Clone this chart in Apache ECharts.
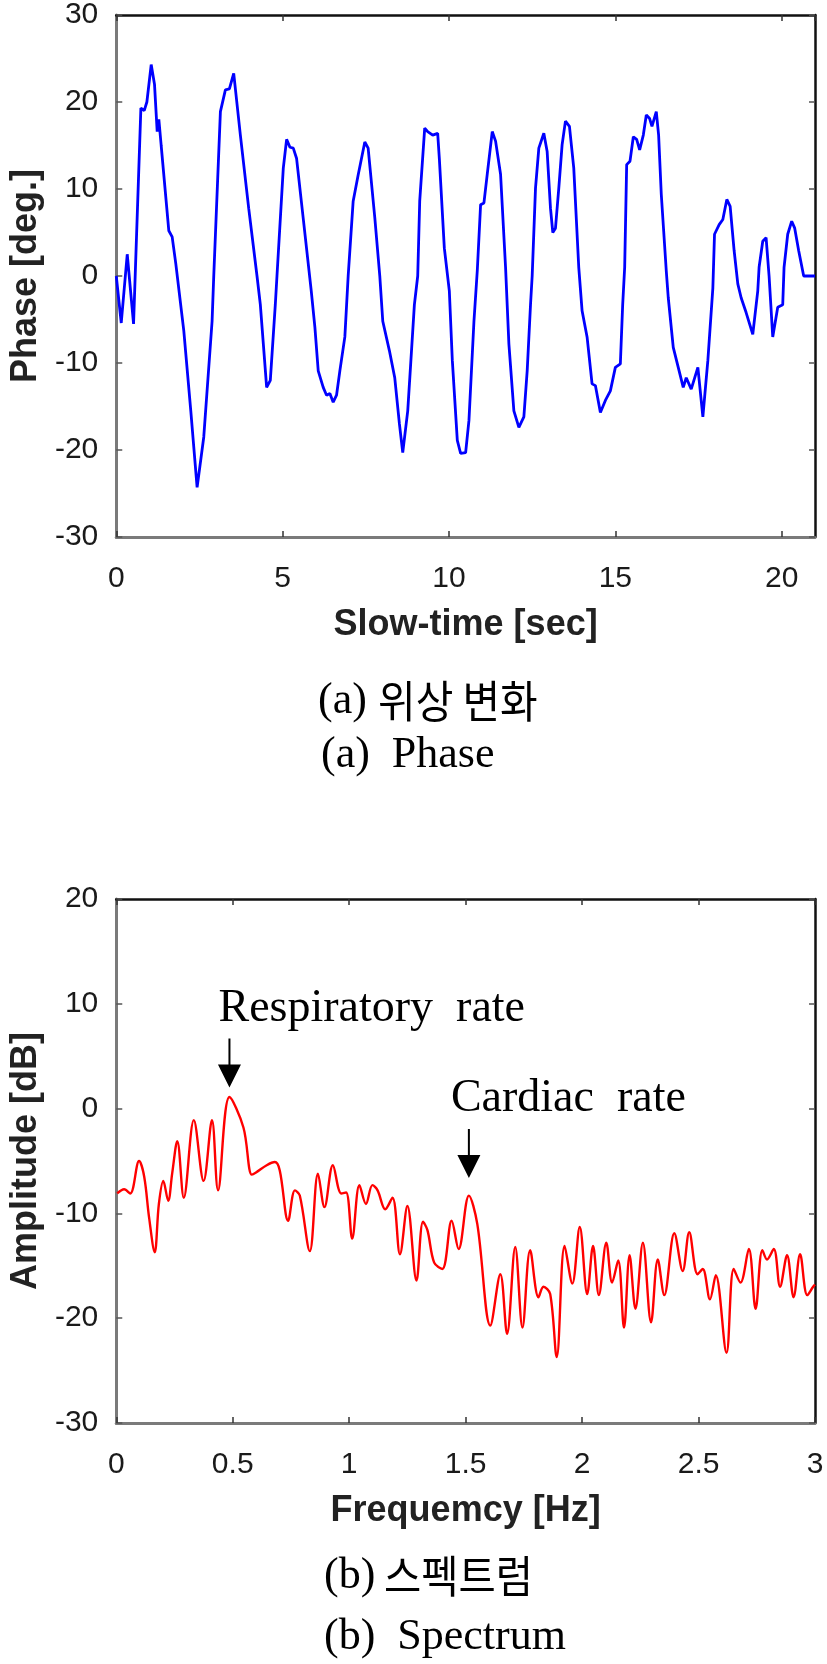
<!DOCTYPE html>
<html><head><meta charset="utf-8">
<script src="https://cdn.jsdelivr.net/npm/echarts@6/dist/echarts.min.js"></script>
<style>html,body{margin:0;padding:0;background:#fff}#c{width:827px;height:1664px}</style>
</head><body><div id="c"></div>
<script>
// ---- data: phase (top) ----
const phaseTimeRange = [0, 21];      // sec
const phaseYRange = [-30, 30];        // deg
const phasePoints = [
[0,0],[0.15,-5.4],[0.33,2.5],[0.52,-5.5],[0.74,19.3],[0.84,19],[0.92,20],[1.05,24.3],[1.15,22],[1.23,16.6],[1.28,18],[1.35,15],
[1.58,5.2],[1.68,4.5],[1.79,1.4],[2.03,-6.3],[2.24,-15.5],[2.43,-24.3],[2.63,-18.5],[2.88,-5.2],[2.93,0],[3.13,18.9],[3.28,21.4],
[3.4,21.5],[3.53,23.3],[3.73,16.2],[3.98,7.8],[4.23,0],[4.33,-3.3],[4.52,-12.8],[4.63,-12],[4.78,-3.3],[4.83,0],[5.02,12.4],
[5.12,15.7],[5.22,14.8],[5.32,14.7],[5.42,13.5],[5.62,6.6],[5.86,-1.7],[5.97,-5.9],[6.07,-10.9],[6.22,-12.8],[6.32,-13.7],
[6.42,-13.5],[6.52,-14.5],[6.62,-13.7],[6.72,-10.9],[6.87,-7],[6.97,0],[7.12,8.6],[7.27,11.6],[7.47,15.4],[7.57,14.7],[7.77,6.7],
[7.92,0],[8.01,-5.2],[8.21,-8.6],[8.37,-11.7],[8.51,-17],[8.61,-20.3],[8.76,-15.5],[8.96,-3.3],[9.06,0],[9.12,8.6],[9.27,17],
[9.36,16.6],[9.51,16.2],[9.66,16.4],[9.71,13.5],[9.86,3.2],[10.01,-1.7],[10.1,-9.7],[10.25,-18.9],[10.35,-20.4],[10.5,-20.3],
[10.6,-16.6],[10.75,-5.2],[10.85,0.6],[10.95,8.2],[11.05,8.4],[11.15,11.7],[11.3,16.6],[11.4,15.5],[11.55,11.7],[11.7,1],
[11.8,-7.8],[11.95,-15.5],[12.1,-17.4],[12.25,-16.2],[12.35,-10.9],[12.45,-3.3],[12.5,0],[12.6,10.1],[12.7,14.7],[12.85,16.4],
[12.95,14.3],[13.05,7.8],[13.12,5],[13.2,5.5],[13.3,10.1],[13.4,15.1],[13.5,17.8],[13.62,17.2],[13.75,12.4],[13.9,1],[14.0,-4],
[14.15,-7],[14.3,-12.4],[14.4,-12.6],[14.55,-15.7],[14.7,-14.3],[14.85,-13.2],[15.0,-10.5],[15.15,-10.1],[15.22,-3.3],[15.28,1],
[15.34,12.8],[15.44,13.2],[15.54,16],[15.64,15.7],[15.73,14.5],[15.84,16.2],[15.93,18.5],[16.03,18.1],[16.1,17.2],[16.23,18.9],
[16.3,16.2],[16.38,9.4],[16.53,0.6],[16.59,-2.5],[16.74,-8.2],[16.89,-10.5],[17.04,-12.8],[17.13,-11.7],[17.28,-13],[17.48,-10.5],
[17.63,-16.2],[17.78,-9.7],[17.93,-1.4],[17.98,4.8],[18.12,5.9],[18.23,6.5],[18.35,8.8],[18.45,8],[18.57,2.9],[18.68,-0.9],
[18.78,-2.5],[18.93,-4.2],[19.13,-6.7],[19.28,-1.7],[19.32,1],[19.43,4],[19.53,4.4],[19.62,0],[19.73,-7],[19.88,-3.6],[20.03,-3.3],
[20.07,1],[20.18,4.8],[20.3,6.3],[20.39,5.5],[20.51,2.9],[20.66,0],[20.87,0],[21,0]
];

// ---- data: spectrum (bottom) ----
const freqRange = [0, 3];      // Hz
const ampRange = [-30, 20];    // dB
const spectrumPoints = [
[0.004,-8.1],[0.034,-7.7],[0.06,-8.1],[0.098,-5.0],[0.12,-6.5],[0.141,-10.4],[0.165,-13.7],[0.183,-9.1],[0.202,-6.9],[0.223,-8.8],
[0.24,-6.2],[0.262,-3.1],[0.29,-8.5],[0.333,-1.1],[0.375,-6.9],[0.411,-1.1],[0.437,-7.8],[0.486,1.1],[0.546,-1.8],[0.582,-6.3],
[0.6,-6.1],[0.646,-5.4],[0.681,-5.1],[0.702,-5.9],[0.738,-10.7],[0.767,-7.8],[0.788,-8.3],[0.831,-13.6],[0.866,-6.2],[0.894,-9.4],
[0.93,-5.4],[0.966,-8.1],[0.987,-8.0],[1.013,-12.4],[1.044,-7.3],[1.072,-9.1],[1.1,-7.3],[1.122,-7.8],[1.155,-9.6],[1.186,-8.5],
[1.218,-13.9],[1.25,-9.3],[1.289,-16.4],[1.317,-10.8],[1.336,-11.6],[1.365,-14.7],[1.4,-15.3],[1.44,-10.7],[1.47,-13.4],[1.514,-8.3],
[1.55,-11],[1.606,-20.7],[1.649,-15.8],[1.678,-21.5],[1.713,-13.2],[1.744,-20.9],[1.777,-13.5],[1.813,-18],[1.834,-17],[1.863,-17.7],
[1.891,-23.7],[1.925,-13.1],[1.958,-16.7],[1.99,-11.3],[2.022,-17.7],[2.047,-13.1],[2.072,-17.8],[2.104,-12.8],[2.129,-16.6],
[2.155,-14.5],[2.18,-20.9],[2.204,-14],[2.229,-19.1],[2.261,-12.8],[2.296,-20.4],[2.325,-14.4],[2.353,-17.8],[2.396,-11.9],
[2.432,-15.5],[2.46,-11.8],[2.496,-15.8],[2.518,-15.3],[2.549,-18.2],[2.574,-15.9],[2.62,-23.3],[2.651,-15.3],[2.68,-16.6],
[2.716,-13.4],[2.745,-19.1],[2.774,-13.5],[2.794,-14.4],[2.823,-13.4],[2.85,-17],[2.88,-14],[2.908,-18],[2.936,-13.9],
[2.967,-17.8],[2.992,-17],[3,-16.8]
];

// annotated peaks (picked from the spectrum values above)
function peakIn(lo, hi) {
  let best = null;
  spectrumPoints.forEach(p => { if (p[0] >= lo && p[0] <= hi && (!best || p[1] > best[1])) best = p; });
  return best;
}
const respiratoryPeak = peakIn(0.4, 0.6);
const cardiacPeak = peakIn(1.45, 1.6);

const labels = {
  phaseX: 'Slow-time [sec]', phaseY: 'Phase [deg.]',
  specX: 'Frequemcy [Hz]', specY: 'Amplitude [dB]',
  resp: 'Respiratory  rate', card: 'Cardiac  rate',
  capA1: '(a)', capA1k: '위상 변화', capA2: '(a)  Phase',
  capB1: '(b)', capB1k: '스펙트럼', capB2: '(b)  Spectrum'
};

const SANS = '"Liberation Sans", Arial, sans-serif';
const SERIF = '"Liberation Serif", "Times New Roman", serif';
const KO = '"Noto Sans CJK KR", sans-serif';
const tickFont = { fontFamily: SANS, fontSize: 30, color: '#1a1a1a' };
const nameFont = { fontFamily: SANS, fontSize: 36, fontWeight: 'bold', color: '#222' };

function frameAxes(gridIndex, xr, xInt, yr, yInt, xName, yName, yNamePad) {
  const xs = [
    { gridIndex, type: 'value', min: xr[0], max: xr[1], interval: xInt, position: 'bottom',
      axisLine: { onZero: false, lineStyle: { color: '#7a7a7a', width: 3 } },
      axisTick: { inside: true, length: 6, lineStyle: { color: '#333', width: 1.5 } },
      axisLabel: Object.assign({ margin: 27, showMaxLabel: Number.isInteger((xr[1]-xr[0])/xInt) }, tickFont),
      splitLine: { show: false },
      name: xName, nameLocation: 'middle', nameGap: 70, nameTextStyle: nameFont },
    { gridIndex, type: 'value', min: xr[0], max: xr[1], interval: xInt, position: 'top',
      axisLine: { onZero: false, lineStyle: { color: '#111', width: 2.5 } },
      axisTick: { inside: true, length: 6, lineStyle: { color: '#333', width: 1.5 } },
      axisLabel: { show: false }, splitLine: { show: false } }
  ];
  const ys = [
    { gridIndex, type: 'value', min: yr[0], max: yr[1], interval: yInt, position: 'left',
      axisLine: { onZero: false, lineStyle: { color: '#7a7a7a', width: 3 } },
      axisTick: { inside: true, length: 6, lineStyle: { color: '#555', width: 1.5 } },
      axisLabel: Object.assign({ margin: 18 }, tickFont),
      splitLine: { show: false },
      name: yName, nameLocation: 'middle', nameGap: 72, nameRotate: 90,
      nameTextStyle: Object.assign({ padding: yNamePad }, nameFont) },
    { gridIndex, type: 'value', min: yr[0], max: yr[1], interval: yInt, position: 'right',
      axisLine: { onZero: false, lineStyle: { color: '#111', width: 2.5 } },
      axisTick: { inside: true, length: 6, lineStyle: { color: '#555', width: 1.5 } },
      axisLabel: { show: false }, splitLine: { show: false } }
  ];
  return { xs, ys };
}

const a = frameAxes(0, phaseTimeRange, 5, phaseYRange, 10, labels.phaseX, labels.phaseY, [0, 0, 0, 0]);
const b = frameAxes(1, freqRange, 0.5, ampRange, 10, labels.specX, labels.specY, [0, 0, 0, 0]);

const arrowPath = 'path://M10.5,0L12.5,0L12.5,26L23,26L11.5,49L0,26L10.5,26Z';

function cap(text, x, y, font, sx) {
  return { type: 'text', x, y, scaleX: sx || 1,
           style: { text, font, fill: '#000', verticalAlign: 'middle' } };
}

const option = {
  backgroundColor: '#fff',
  animation: false,
  grid: [
    { left: 112, top: 13, width: 703, height: 524 },
    { left: 112, top: 899, width: 703, height: 524 }
  ],
  xAxis: a.xs.concat(b.xs),
  yAxis: a.ys.concat(b.ys),
  series: [
    { type: 'line', xAxisIndex: 0, yAxisIndex: 0, data: phasePoints, showSymbol: false,
      lineStyle: { color: '#0000ff', width: 2.8 }, itemStyle: { color: '#0000ff' } },
    { type: 'line', xAxisIndex: 2, yAxisIndex: 2, data: spectrumPoints, showSymbol: false, smooth: 0.35,
      lineStyle: { color: '#ff0000', width: 2.4 }, itemStyle: { color: '#ff0000' },
      markPoint: {
        silent: true, symbol: arrowPath, symbolSize: [23, 49],
        itemStyle: { color: '#000' },
        label: { show: true, position: 'top', align: 'left', distance: 7,
                 fontFamily: SERIF, fontSize: 46, color: '#000' },
        data: [
          { coord: respiratoryPeak, symbolOffset: [0, -34], label: { formatter: labels.resp, offset: [-11, 0] } },
          { coord: cardiacPeak, symbolOffset: [0, -42], label: { formatter: labels.card, offset: [-18, 0] } }
        ]
      } }
  ],
  graphic: [
    cap(labels.capA1, 318, 701, '44px ' + SERIF),
    cap(labels.capA1k, 378, 701, '44px ' + KO, 0.93),
    cap(labels.capA2, 321, 755, '44px ' + SERIF),
    cap(labels.capB1, 324, 1576, '44px ' + SERIF),
    cap(labels.capB1k, 384, 1576, '44px ' + KO, 0.92),
    cap(labels.capB2, 324, 1637, '44px ' + SERIF)
  ]
};

const chart = echarts.init(document.getElementById('c'), null, { renderer: 'canvas' });
chart.setOption(option);
</script>
</body></html>
